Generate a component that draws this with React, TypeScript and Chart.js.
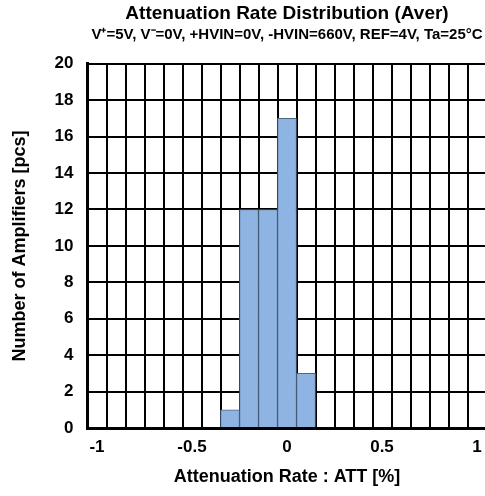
import React, { useEffect, useRef } from 'react';
import { Chart, registerables } from 'chart.js';

Chart.register(...registerables);

const categories = ['-1', '-0.9', '-0.8', '-0.7', '-0.6', '-0.5', '-0.4', '-0.3', '-0.2', '-0.1', '0', '0.1', '0.2', '0.3', '0.4', '0.5', '0.6', '0.7', '0.8', '0.9', '1'];
const counts = [0, 0, 0, 0, 0, 0, 0, 1, 12, 12, 17, 3, 0, 0, 0, 0, 0, 0, 0, 0, 0];
const shownXTicks = ['-1', '-0.5', '0', '0.5', '1'];
const titleText = 'Attenuation Rate Distribution (Aver)';
const subtitleText = 'V\u207A=5V, V\u207B=0V, +HVIN=0V, -HVIN=660V, REF=4V, Ta=25°C';
const xTitle = 'Attenuation Rate : ATT [%]';
const yTitle = 'Number of Amplifiers [pcs]';

const FONT = "'Liberation Sans', Arial, sans-serif";

export default function App() {
  const ref = useRef<HTMLCanvasElement | null>(null);
  useEffect(() => {
    if (!ref.current) return;
    const chart = new Chart(ref.current, {
      type: 'bar',
      data: {
        labels: categories,
        datasets: [
          {
            data: counts,
            backgroundColor: '#8db4e2',
            borderColor: '#4f6580',
            borderWidth: 1,
            barPercentage: 1,
            categoryPercentage: 1,
          },
        ],
      },
      options: {
        animation: false,
        responsive: false,
        maintainAspectRatio: false,
        layout: { padding: { left: 9, right: 13.5, top: 0, bottom: 8 } },
        plugins: {
          legend: { display: false },
          tooltip: { enabled: false },
          title: {
            display: true,
            text: titleText,
            fullSize: false,
            color: '#000',
            font: { family: FONT, size: 19, weight: 'bold' },
            padding: { top: 2, bottom: 1 },
          },
          subtitle: {
            display: true,
            text: subtitleText,
            fullSize: false,
            color: '#000',
            font: { family: FONT, size: 15, weight: 'bold' },
            padding: { top: 0, bottom: 20 },
          },
        },
        scales: {
          x: {
            type: 'category',
            offset: true,
            grid: { offset: true, color: '#000', lineWidth: 2, drawTicks: false },
            border: { color: '#000', width: 3 },
            ticks: {
              autoSkip: false,
              maxRotation: 0,
              color: '#000',
              padding: 9,
              font: { family: FONT, size: 17, weight: 'bold' },
              callback: function (this: any, val: any) {
                const l = categories[val as number];
                return shownXTicks.includes(l) ? l : '';
              },
            },
            title: {
              display: true,
              text: xTitle,
              color: '#000',
              font: { family: FONT, size: 18, weight: 'bold' },
              padding: { top: 0, bottom: 0 },
            },
          },
          y: {
            min: 0,
            max: 20,
            grid: { color: '#000', lineWidth: 2, drawTicks: false },
            border: { color: '#000', width: 3 },
            ticks: {
              stepSize: 2,
              color: '#000',
              padding: 14,
              font: { family: FONT, size: 17, weight: 'bold' },
            },
            title: {
              display: true,
              text: yTitle,
              color: '#000',
              font: { family: FONT, size: 18, weight: 'bold' },
              padding: { top: 0, bottom: 10 },
            },
          },
        },
      },
    });
    return () => chart.destroy();
  }, []);
  return (
    <div style={{ position: 'fixed', left: 0, top: 0, width: 485, height: 496, overflow: 'hidden', background: '#fff' }}>
      <canvas ref={ref} width={500} height={496} style={{ width: 500, height: 496, display: 'block' }} />
    </div>
  );
}
